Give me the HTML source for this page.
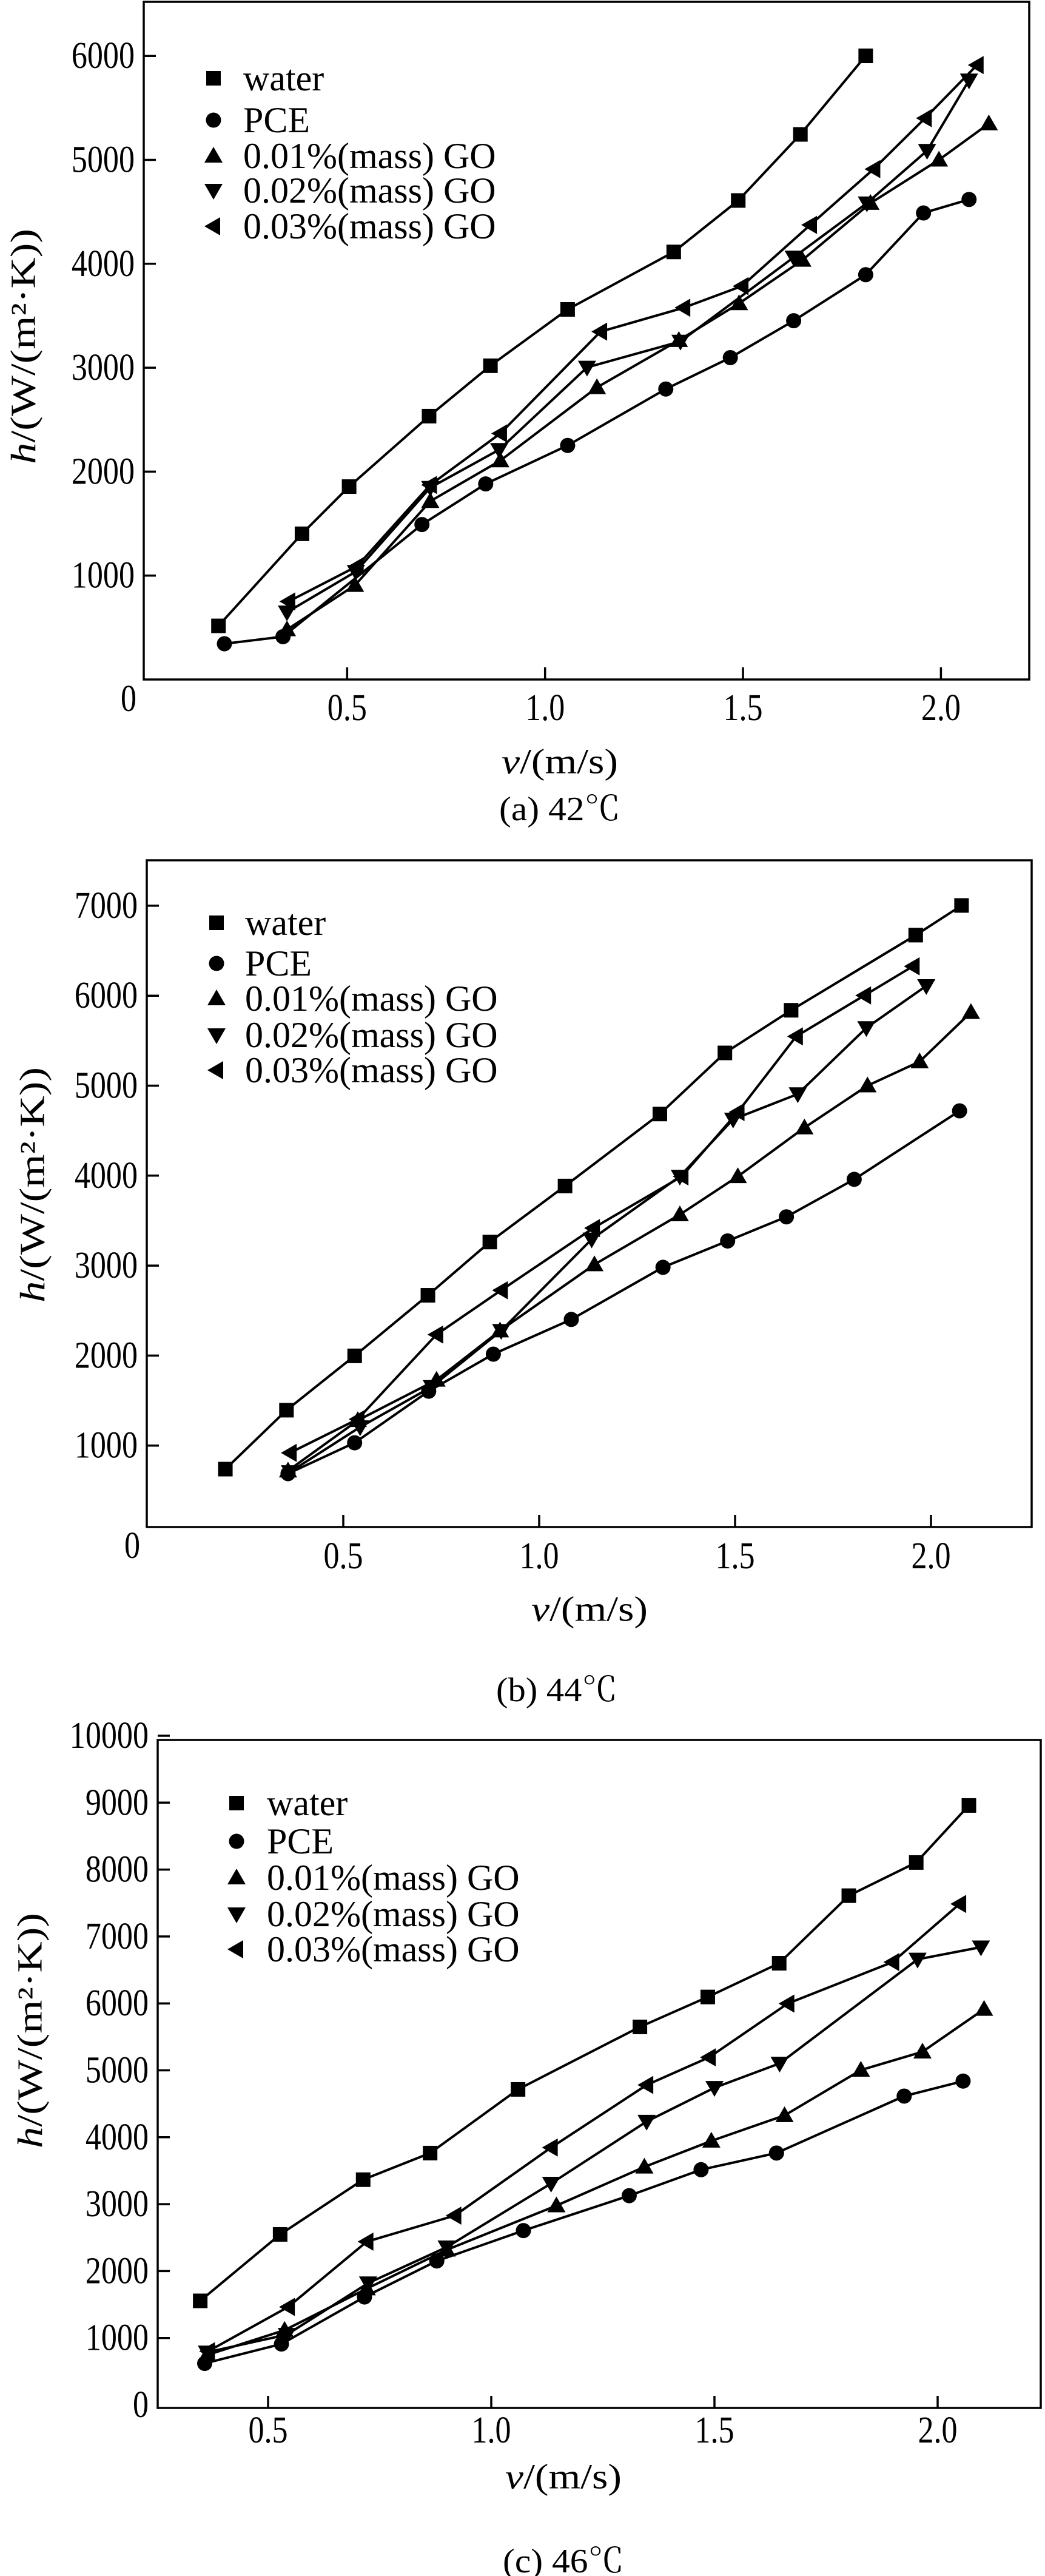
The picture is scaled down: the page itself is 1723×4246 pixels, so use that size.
<!DOCTYPE html>
<html><head><meta charset="utf-8"><style>
html,body{margin:0;padding:0;background:#fff;}
svg{display:block;font-family:"Liberation Serif","Noto Serif CJK SC",serif;}
</style></head>
<body>
<svg id="fig" xmlns="http://www.w3.org/2000/svg" width="1723" height="4246" viewBox="0 0 1723 4246"></svg>
<script>
// ---------- Panel (a) 42C data ----------
const aWaterV=[0.175,0.386,0.505,0.707,0.862,1.057,1.325,1.488,1.645,1.810];
const aWaterH=[516,1402,1856,2534,3019,3561,4114,4609,5245,6001];
const aPceV=[0.190,0.338,0.689,0.850,1.057,1.305,1.468,1.628,1.810,1.956,2.071];
const aPceH=[344,412,1491,1882,2252,2795,3097,3452,3895,4489,4619];
const aGo1V=[0.348,0.520,0.710,0.887,1.131,1.338,1.490,1.650,1.822,1.995,2.121];
const aGo1H=[480,907,1715,2106,2810,3264,3618,4036,4583,5000,5349];
const aGo2V=[0.348,0.522,0.710,0.884,1.106,1.342,1.628,1.813,1.965,2.071];
const aGo2H=[647,1038,1846,2211,3003,3253,4062,4583,5089,5766];
const aGo3V=[0.352,0.525,0.710,0.887,1.140,1.350,1.497,1.670,1.830,1.960,2.091];
const aGo3H=[751,1090,1872,2367,3347,3577,3785,4374,4911,5401,5912];
const aYTicks=[1000,2000,3000,4000,5000,6000];
// ---------- Panel (b) 44C data ----------
const bWaterV=[0.199,0.355,0.529,0.716,0.874,1.066,1.308,1.474,1.643,1.961,2.078];
const bWaterH=[738,1393,1997,2670,3262,3885,4685,5364,5838,6673,7003];
const bPceV=[0.359,0.529,0.718,0.883,1.082,1.316,1.481,1.631,1.804,2.073];
const bPceH=[688,1031,1604,2016,2402,2981,3274,3542,3959,4720];
const bGo1V=[0.359,0.537,0.738,0.900,1.141,1.359,1.507,1.677,1.838,1.971,2.102];
const bGo1H=[720,1280,1729,2277,3012,3567,3991,4533,5000,5268,5816];
const bGo2V=[0.364,0.543,0.726,0.903,1.134,1.359,1.495,1.660,1.835,1.988];
const bGo2H=[707,1206,1654,2277,3293,3991,4626,4907,5642,6109];
const bGo3V=[0.364,0.537,0.738,0.903,1.138,1.364,1.507,1.656,1.830,1.954];
const bGo3H=[919,1293,2234,2726,3417,3991,4707,5548,6003,6327];
const bYTicks=[1000,2000,3000,4000,5000,6000,7000];
// ---------- Panel (c) 46C data ----------
const cWaterV=[0.348,0.527,0.713,0.863,1.060,1.333,1.485,1.645,1.801,1.952,2.070];
const cWaterH=[1555,2548,3366,3763,4715,5649,6096,6600,7610,8106,8958];
const cPceV=[0.358,0.530,0.716,0.878,1.072,1.309,1.470,1.639,1.925,2.057];
const cPceH=[620,910,1613,2151,2605,3127,3515,3764,4615,4839];
const cGo1V=[0.363,0.537,0.721,0.900,1.146,1.343,1.493,1.657,1.828,1.966,2.104];
const cGo1H=[744,1117,1737,2316,2978,3557,3945,4326,5004,5277,5914];
const cGo2V=[0.363,0.542,0.724,0.900,1.134,1.348,1.500,1.646,1.955,2.097];
const cGo2H=[786,1050,1820,2357,3309,4235,4740,5103,6658,6840];
const cGo3V=[0.366,0.545,0.721,0.918,1.134,1.348,1.488,1.664,1.899,2.049];
const cGo3H=[802,1464,2440,2829,3846,4781,5194,5997,6617,7486];
const cYTicks=[0,1000,2000,3000,4000,5000,6000,7000,8000,9000,10000];

const xTicks=[0.5,1.0,1.5,2.0];
const xTickLabels=["0.5","1.0","1.5","2.0"];
const seriesNames=["water","PCE","0.01%(mass) GO","0.02%(mass) GO","0.03%(mass) GO"];
const seriesKeys=["water","pce","go-001","go-002","go-003"];
const markerShapes=["square","circle","up","down","left"];

const NS="http://www.w3.org/2000/svg";
const svg=document.getElementById('fig');
function mk(tag,attrs,parent){const e=document.createElementNS(NS,tag);for(const k in attrs)e.setAttribute(k,attrs[k]);(parent||svg).appendChild(e);return e;}

function marker(shape,cx,cy,parent){
  let e;
  if(shape==="square"){e=mk('rect',{x:cx-12,y:cy-12,width:24,height:24,fill:'#000'},parent);}
  else if(shape==="circle"){e=mk('circle',{cx:cx,cy:cy,r:12.5,fill:'#000'},parent);}
  else if(shape==="up"){e=mk('polygon',{points:`${cx},${cy-15} ${cx+15},${cy+11} ${cx-15},${cy+11}`,fill:'#000'},parent);}
  else if(shape==="down"){e=mk('polygon',{points:`${cx},${cy+15} ${cx+15},${cy-11} ${cx-15},${cy-11}`,fill:'#000'},parent);}
  else {e=mk('polygon',{points:`${cx-15},${cy} ${cx+11},${cy-15} ${cx+11},${cy+15}`,fill:'#000'},parent);}
  return e;
}

function drawPanel(p){
  const g=mk('g',{});
  
  
  const X=v=>p.x0+p.xs*v, Y=h=>p.y0-p.ys*h;
  const sv=[p.V[0],p.V[1],p.V[2],p.V[3],p.V[4]], sh=[p.H[0],p.H[1],p.H[2],p.H[3],p.H[4]];
  for(let s=0;s<5;s++){
    const sg=mk('g',{},g);
    
    
    const pts=sv[s].map((v,i)=>X(v).toFixed(1)+','+Y(sh[s][i]).toFixed(1)).join(' ');
    const ln=mk('polyline',{points:pts,fill:'none',stroke:'#000','stroke-width':4,'stroke-linejoin':'round'},sg);
    
    
    sv[s].forEach((v,i)=>{
      const m=marker(markerShapes[s],X(v),Y(sh[s][i]),sg);
      
      
    });
  }
  const fr=mk('rect',{x:p.L,y:p.T,width:p.R-p.L,height:p.B-p.T,fill:'none',stroke:'#000','stroke-width':3.5},g);
  
  
  p.yTicks.forEach(t=>{
    const y=Y(t);
    if(t>0){const tk=mk('line',{x1:p.L,x2:p.L+20,y1:y,y2:y,stroke:'#000','stroke-width':3.5},g);
      
      }
    const tx=mk('text',{transform:`translate(${p.L-15},${y}) scale(0.84,1)`,'text-anchor':'end','dominant-baseline':'central','font-size':62},g);
    tx.textContent=String(t);
    
    
  });
  if(p.zero){const z=mk('text',{transform:`translate(${p.zero[0]},${p.zero[1]}) scale(0.84,1)`,'text-anchor':'middle','dominant-baseline':'central','font-size':62},g);
    z.textContent='0';
    
    }
  xTicks.forEach((t,i)=>{
    const x=X(t);
    const tk=mk('line',{x1:x,x2:x,y1:p.B,y2:p.B-20,stroke:'#000','stroke-width':3.5},g);
    
    
    const tx=mk('text',{transform:`translate(${x},${p.xl}) scale(0.84,1)`,'text-anchor':'middle','dominant-baseline':'central','font-size':62},g);
    tx.textContent=xTickLabels[i];
    
    
  });
  const lg=mk('g',{},g);
  
  
  p.leg.rows.forEach((y,s)=>{
    const m=marker(markerShapes[s],p.leg.mx,y,lg);
    
    
    const t=mk('text',{x:p.leg.tx,y:y,'dominant-baseline':'central','font-size':60},lg);
    t.textContent=seriesNames[s];
    
    
  });
  const yt=mk('text',{transform:`translate(${p.yt[0]},${p.yt[1]}) rotate(-90)`,'text-anchor':'middle','dominant-baseline':'central','font-size':58,textLength:388,lengthAdjust:'spacingAndGlyphs'},g);
  yt.innerHTML='<tspan font-style="italic">h</tspan>/(W/(m²·K))';
  
  
  const xt=mk('text',{x:p.xt[0],y:p.xt[1],'text-anchor':'middle','dominant-baseline':'central','font-size':58,textLength:192,lengthAdjust:'spacingAndGlyphs'},g);
  xt.innerHTML='<tspan font-style="italic">v</tspan>/(m/s)';
  
  
  const cp=mk('text',{x:p.cap[0],y:p.cap[1],'text-anchor':'middle','dominant-baseline':'central','font-size':56,textLength:200,lengthAdjust:'spacingAndGlyphs'},g);
  cp.textContent=p.caption;
  
  
}

drawPanel({id:'a',x0:246,xs:652.7,y0:1120,ys:0.1713,L:237,R:1697,T:3,B:1120,
  V:[aWaterV,aPceV,aGo1V,aGo2V,aGo3V],H:[aWaterH,aPceH,aGo1H,aGo2H,aGo3H],
  yTicks:aYTicks,zero:[212,1152],xl:1167,
  leg:{mx:352,tx:401,rows:[129,198,257,314,373]},
  yt:[38,571],xt:[923,1255],cap:[923,1334],caption:'(a) 42℃'});
drawPanel({id:'b',x0:243,xs:646,y0:2531,ys:0.1483,L:242,R:1701,T:1418,B:2517,
  V:[bWaterV,bPceV,bGo1V,bGo2V,bGo3V],H:[bWaterH,bPceH,bGo1H,bGo2H,bGo3H],
  yTicks:bYTicks,zero:[218,2548],xl:2565,
  leg:{mx:357,tx:404,rows:[1521,1588,1646,1706,1764]},
  yt:[53,1953],xt:[972,2652],cap:[918,2786],caption:'(b) 44℃'});
drawPanel({id:'c',x0:74,xs:736,y0:3964,ys:0.1103,L:260,R:1716,T:2868,B:3969,
  V:[cWaterV,cPceV,cGo1V,cGo2V,cGo3V],H:[cWaterH,cPceH,cGo1H,cGo2H,cGo3H],
  yTicks:cYTicks,zero:null,xl:4006,
  leg:{mx:390,tx:440,rows:[2972,3035,3095,3155,3213]},
  yt:[49,3347],xt:[929,4082],cap:[929,4222],caption:'(c) 46℃'});
</script>
</body></html>
